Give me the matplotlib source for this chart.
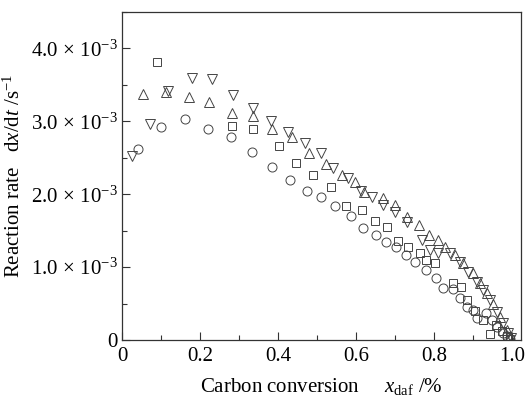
import matplotlib
matplotlib.use("Agg")
import matplotlib.pyplot as plt
from matplotlib.ticker import MultipleLocator, FixedLocator, FixedFormatter

plt.rcParams['font.family'] = ['Liberation Serif', 'DejaVu Serif']
plt.rcParams['mathtext.fontset'] = 'custom'
plt.rcParams['mathtext.rm'] = 'Liberation Serif'
plt.rcParams['mathtext.it'] = 'Liberation Serif:italic'

# Data (x: carbon conversion, y: reaction rate in 1e-3 s^-1)
sq_x = [0.09, 0.282, 0.336, 0.403, 0.446, 0.49, 0.536, 0.574, 0.615, 0.649, 0.679, 0.708,
        0.733, 0.764, 0.78, 0.803, 0.849, 0.869, 0.885, 0.905, 0.925, 0.944, 0.96, 0.975, 0.988, 0.995]
sq_y = [3.81, 2.93, 2.89, 2.66, 2.43, 2.26, 2.10, 1.84, 1.79, 1.63, 1.55, 1.36,
        1.27, 1.19, 1.10, 1.05, 0.78, 0.73, 0.55, 0.40, 0.28, 0.08, 0.20, 0.12, 0.06, 0.02]

ci_x = [0.041, 0.1, 0.162, 0.221, 0.279, 0.333, 0.385, 0.431, 0.474, 0.51, 0.546, 0.587,
        0.618, 0.651, 0.677, 0.703, 0.728, 0.751, 0.779, 0.805, 0.823, 0.849, 0.867, 0.885,
        0.9, 0.91, 0.935, 0.95, 0.963, 0.977, 0.988, 0.996]
ci_y = [2.62, 2.92, 3.03, 2.90, 2.78, 2.58, 2.38, 2.19, 2.04, 1.96, 1.84, 1.70,
        1.54, 1.44, 1.34, 1.27, 1.16, 1.07, 0.96, 0.85, 0.71, 0.70, 0.58, 0.45,
        0.41, 0.30, 0.37, 0.27, 0.18, 0.10, 0.05, 0.02]

up_x = [0.053, 0.112, 0.173, 0.223, 0.283, 0.335, 0.385, 0.436, 0.479, 0.523, 0.564, 0.597,
        0.62, 0.669, 0.70, 0.73, 0.762, 0.787, 0.81, 0.828, 0.854, 0.875, 0.90, 0.918,
        0.936, 0.951, 0.969, 0.987, 0.995]
up_y = [3.37, 3.40, 3.34, 3.26, 3.11, 3.08, 2.90, 2.78, 2.56, 2.42, 2.26, 2.17,
        2.03, 1.95, 1.85, 1.69, 1.58, 1.44, 1.37, 1.27, 1.16, 1.05, 0.92, 0.78,
        0.64, 0.50, 0.32, 0.14, 0.04]

dn_x = [0.025, 0.072, 0.118, 0.179, 0.231, 0.285, 0.336, 0.382, 0.426, 0.469, 0.51, 0.541,
        0.58, 0.613, 0.641, 0.669, 0.70, 0.731, 0.77, 0.79, 0.81, 0.841, 0.867, 0.887,
        0.91, 0.926, 0.944, 0.962, 0.977, 0.990, 0.998]
dn_y = [2.53, 2.96, 3.41, 3.60, 3.58, 3.36, 3.18, 3.00, 2.86, 2.70, 2.56, 2.36,
        2.22, 2.05, 1.96, 1.85, 1.75, 1.62, 1.37, 1.23, 1.20, 1.19, 1.07, 0.93,
        0.79, 0.68, 0.55, 0.38, 0.23, 0.10, 0.03]

xticks = [0, 0.2, 0.4, 0.6, 0.8, 1.0]
xticklabels = ['0', '0.2', '0.4', '0.6', '0.8', '1.0']
yticks = [0, 1.0, 2.0, 3.0, 4.0]
yticklabels = ['0', r'$1.0\,\times\,10^{-3}$', r'$2.0\,\times\,10^{-3}$',
               r'$3.0\,\times\,10^{-3}$', r'$4.0\,\times\,10^{-3}$']

fig = plt.figure(figsize=(5.26, 4.0), dpi=100)
ax = fig.add_axes([0.232, 0.15, 0.758, 0.82])

ec = '#444444'
kw = dict(linestyle='none', markerfacecolor='none', markeredgecolor=ec, markeredgewidth=0.7)
ax.plot(sq_x, sq_y, marker='s', markersize=5.5, **kw)
ax.plot(ci_x, ci_y, marker='o', markersize=6.5, **kw)
ax.plot(up_x, up_y, marker='^', markersize=7, **kw)
ax.plot(dn_x, dn_y, marker='v', markersize=7, **kw)

ax.set_xlim(0, 1.023)
ax.set_ylim(0, 4.5)
ax.xaxis.set_major_locator(FixedLocator(xticks))
ax.xaxis.set_major_formatter(FixedFormatter(xticklabels))
ax.xaxis.set_minor_locator(MultipleLocator(0.1))
ax.yaxis.set_major_locator(FixedLocator(yticks))
ax.yaxis.set_major_formatter(FixedFormatter(yticklabels))
ax.yaxis.set_minor_locator(MultipleLocator(0.5))

ax.tick_params(which='both', direction='in', colors='#333333', labelcolor='black', width=0.8)
ax.tick_params(which='major', length=6, labelsize=15)
ax.tick_params(which='minor', length=3.5)
ax.tick_params(axis='x', pad=5)
ax.tick_params(axis='y', pad=3)
for s in ax.spines.values():
    s.set_color('#333333')
    s.set_linewidth(0.9)

ax.set_xlabel('Carbon conversion     $x_{\\mathrm{daf}}$ /%', fontsize=15)
ax.set_ylabel('Reaction rate   d$x$/d$t$ /s$^{-1}$', fontsize=15)
ax.xaxis.set_label_coords(0.5, -0.11)
ax.yaxis.set_label_coords(-0.245, 0.5)

fig.savefig('out.png', dpi=100)
